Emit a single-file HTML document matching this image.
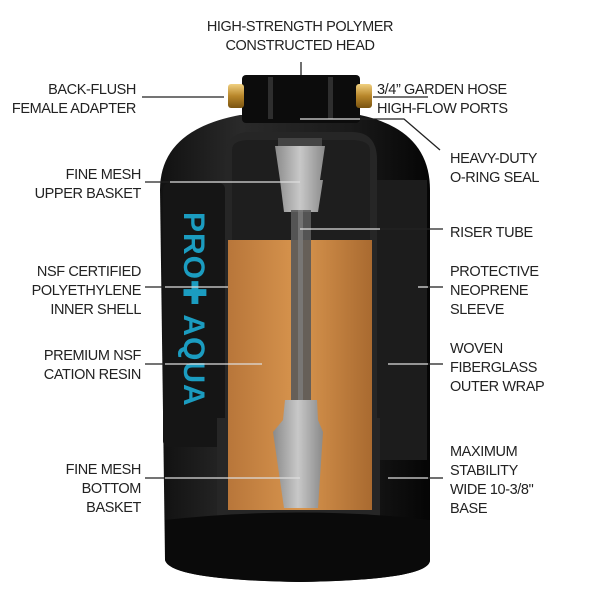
<!DOCTYPE html>
<html><head><meta charset="utf-8"><style>
html,body{margin:0;padding:0;background:#fff;}
svg{display:block}
text{font-family:"Liberation Sans",sans-serif;font-size:14.5px;letter-spacing:-0.4px;fill:#222;}
</style></head><body>
<svg width="600" height="600" viewBox="0 0 600 600">
<defs>
<linearGradient id="body" x1="0" x2="1"><stop offset="0" stop-color="#111"/><stop offset="0.3" stop-color="#2a2a2a"/><stop offset="0.7" stop-color="#1a1a1a"/><stop offset="1" stop-color="#050505"/></linearGradient>
<linearGradient id="resin" x1="0" x2="1"><stop offset="0" stop-color="#b8763a"/><stop offset="0.5" stop-color="#d8954e"/><stop offset="1" stop-color="#a96a30"/></linearGradient>
<linearGradient id="gray" x1="0" x2="1"><stop offset="0" stop-color="#8a8a8a"/><stop offset="0.5" stop-color="#c8c8c8"/><stop offset="1" stop-color="#8a8a8a"/></linearGradient>
<linearGradient id="brass" x1="0" x2="0" y1="0" y2="1"><stop offset="0" stop-color="#f0d080"/><stop offset="0.5" stop-color="#b8862a"/><stop offset="1" stop-color="#7a5410"/></linearGradient>
</defs>
<path d="M160 190 Q160 130 240 115 L360 115 Q430 130 430 190 L430 560 Q430 580 300 582 Q170 580 165 560 Z" fill="url(#body)"/>
<rect x="163" y="183" width="62" height="264" rx="6" fill="#151515"/>
<rect x="377" y="180" width="50" height="280" fill="#1c1c1c"/>
<rect x="242" y="75" width="118" height="48" rx="4" fill="#0c0c0c"/>
<rect x="268" y="77" width="5" height="42" fill="#2e2e2e"/>
<rect x="328" y="77" width="5" height="42" fill="#2e2e2e"/>
<rect x="228" y="84" width="16" height="24" rx="3" fill="url(#brass)"/>
<rect x="356" y="84" width="16" height="24" rx="3" fill="url(#brass)"/>
<path d="M225 160 Q225 132 250 132 L352 132 Q377 132 377 160 L377 418 L380 418 L380 517 L217 517 L217 418 L225 418 Z" fill="#262626"/>
<path d="M232 150 Q232 140 250 140 L350 140 Q370 140 370 150 L370 240 L232 240 Z" fill="#1e1e1e"/>
<rect x="228" y="240" width="144" height="270" fill="url(#resin)"/>
<path d="M165 520 Q300 505 430 520 L430 560 Q430 580 300 582 Q170 580 165 560 Z" fill="#0a0a0a"/>
<rect x="278" y="138" width="44" height="8" fill="#444"/>
<path d="M275 146 L325 146 L320 180 L323 180 L318 212 L284 212 L280 180 Z" fill="url(#gray)"/>
<rect x="291" y="210" width="20" height="195" fill="#5a5a5a" opacity="0.9"/>
<rect x="298" y="210" width="5" height="195" fill="#808080" opacity="0.7"/>
<path d="M285 400 L317 400 L318 420 L323 432 L318 508 L284 508 L273 432 L283 420 Z" fill="url(#gray)"/>
<text transform="translate(184,212) rotate(90)" style="font-size:30px;font-weight:bold;fill:#1b9cc0;letter-spacing:1px">PRO✚ AQUA</text>
<g stroke="#222" stroke-width="1.3" fill="none">
<line x1="301" y1="62" x2="301" y2="75"/>
<line x1="142" y1="97" x2="224" y2="97"/>
<line x1="373" y1="97" x2="428" y2="97"/>
<polyline points="360,119 404,119 440,150"/>
<line x1="145" y1="182" x2="170" y2="182"/>
<line x1="380" y1="229" x2="443" y2="229"/>
<line x1="145" y1="287" x2="165" y2="287"/>
<line x1="428" y1="287" x2="443" y2="287"/>
<line x1="145" y1="364" x2="165" y2="364"/>
<line x1="428" y1="364" x2="443" y2="364"/>
<line x1="145" y1="478" x2="165" y2="478"/>
<line x1="428" y1="478" x2="443" y2="478"/>
</g>
<g stroke="#ddd" stroke-width="1.3" fill="none">
<line x1="300" y1="119" x2="360" y2="119"/>
<line x1="170" y1="182" x2="300" y2="182"/>
<line x1="300" y1="229" x2="380" y2="229"/>
<line x1="165" y1="287" x2="228" y2="287"/>
<line x1="418" y1="287" x2="428" y2="287"/>
<line x1="165" y1="364" x2="262" y2="364"/>
<line x1="388" y1="364" x2="428" y2="364"/>
<line x1="165" y1="478" x2="300" y2="478"/>
<line x1="388" y1="478" x2="428" y2="478"/>
</g>
<g text-anchor="middle">
<text x="300" y="31">HIGH-STRENGTH POLYMER</text>
<text x="300" y="50">CONSTRUCTED HEAD</text>
</g>
<g text-anchor="end">
<text x="136" y="94">BACK-FLUSH</text><text x="136" y="113">FEMALE ADAPTER</text>
<text x="141" y="179">FINE MESH</text><text x="141" y="198">UPPER BASKET</text>
<text x="141" y="276">NSF CERTIFIED</text><text x="141" y="295">POLYETHYLENE</text><text x="141" y="314">INNER SHELL</text>
<text x="141" y="360">PREMIUM NSF</text><text x="141" y="379">CATION RESIN</text>
<text x="141" y="474">FINE MESH</text><text x="141" y="493">BOTTOM</text><text x="141" y="512">BASKET</text>
</g>
<g>
<text x="377" y="94">3/4” GARDEN HOSE</text><text x="377" y="113">HIGH-FLOW PORTS</text>
<text x="450" y="163">HEAVY-DUTY</text><text x="450" y="182">O-RING SEAL</text>
<text x="450" y="237">RISER TUBE</text>
<text x="450" y="276">PROTECTIVE</text><text x="450" y="295">NEOPRENE</text><text x="450" y="314">SLEEVE</text>
<text x="450" y="353">WOVEN</text><text x="450" y="372">FIBERGLASS</text><text x="450" y="391">OUTER WRAP</text>
<text x="450" y="456">MAXIMUM</text><text x="450" y="475">STABILITY</text><text x="450" y="494">WIDE 10-3/8"</text><text x="450" y="513">BASE</text>
</g>
</svg>
</body></html>
